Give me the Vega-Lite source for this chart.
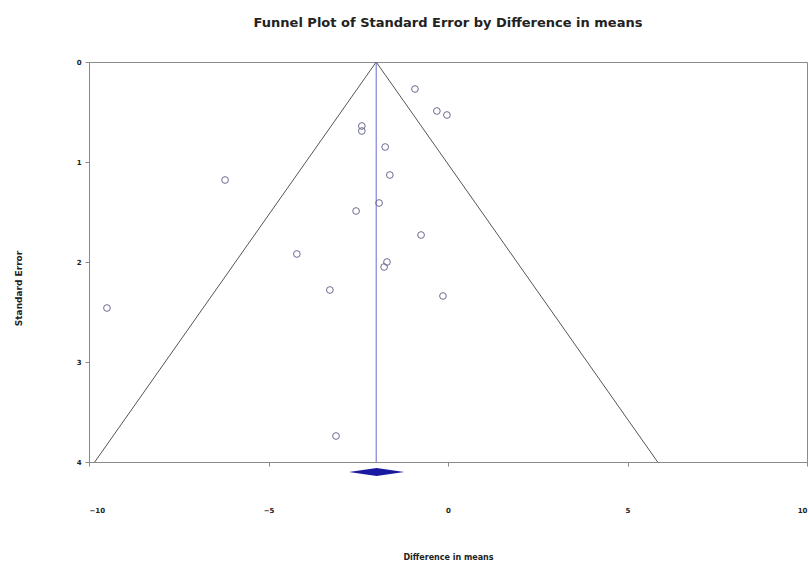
{
  "$schema": "https://vega.github.io/schema/vega-lite/v6.json",
  "width": 718,
  "height": 400,
  "autosize": {"type": "none"},
  "padding": {"left": 89, "top": 62, "right": 2, "bottom": 103},
  "background": "white",
  "title": {
    "text": "Funnel Plot of Standard Error by Difference in means",
    "font": "DejaVu Sans",
    "fontSize": 13,
    "fontWeight": "bold",
    "color": "#222222",
    "anchor": "middle",
    "baseline": "alphabetic",
    "offset": 18
  },
  "config": {
    "view": {"stroke": "#8a8a8a", "strokeWidth": 1},
    "axis": {
      "labelFont": "DejaVu Sans",
      "labelFontSize": 7,
      "labelFontWeight": "bold",
      "labelColor": "#222222",
      "titleFont": "DejaVu Sans",
      "titleFontSize": 8,
      "titleFontWeight": "bold",
      "titleColor": "#222222",
      "grid": false,
      "domainColor": "#8a8a8a",
      "tickColor": "#8a8a8a",
      "tickSize": 4
    }
  },
  "datasets": {
    "studies": [
      {"diff": -0.92, "se": 0.27},
      {"diff": -0.31, "se": 0.49},
      {"diff": -0.03, "se": 0.53},
      {"diff": -2.40, "se": 0.64},
      {"diff": -2.40, "se": 0.69},
      {"diff": -1.75, "se": 0.85},
      {"diff": -1.62, "se": 1.13},
      {"diff": -6.21, "se": 1.18},
      {"diff": -1.92, "se": 1.41},
      {"diff": -2.56, "se": 1.49},
      {"diff": -0.75, "se": 1.73},
      {"diff": -4.21, "se": 1.92},
      {"diff": -1.70, "se": 2.00},
      {"diff": -1.78, "se": 2.05},
      {"diff": -3.29, "se": 2.28},
      {"diff": -0.14, "se": 2.34},
      {"diff": -9.50, "se": 2.46},
      {"diff": -3.12, "se": 3.74}
    ],
    "funnel": [
      {"diff": -9.84, "se": 4, "step": 1},
      {"diff": -2.0, "se": 0, "step": 2},
      {"diff": 5.84, "se": 4, "step": 3}
    ],
    "meanline": [
      {"diff": -2.0, "se": 0, "se2": 4}
    ],
    "diamond": [
      {"diff": -2.76, "lo": 4.10, "hi": 4.10},
      {"diff": -1.99, "lo": 4.06, "hi": 4.14},
      {"diff": -1.22, "lo": 4.10, "hi": 4.10}
    ]
  },
  "layer": [
    {
      "data": {"name": "funnel"},
      "mark": {"type": "line", "color": "#555555", "strokeWidth": 1},
      "encoding": {
        "x": {
          "field": "diff", "type": "quantitative",
          "scale": {"domain": [-10, 10], "nice": false, "zero": false},
          "axis": {
            "values": [-10, -5, 0, 5, 10],
            "format": "d",
            "title": "Difference in means",
            "labelPadding": 40,
            "titleY": 95,
            "titleBaseline": "middle"
          }
        },
        "y": {
          "field": "se", "type": "quantitative",
          "scale": {"domain": [0, 4], "reverse": true, "nice": false},
          "axis": {
            "values": [0, 1, 2, 3, 4],
            "format": "d",
            "title": "Standard Error",
            "titleFontSize": 9,
            "labelPadding": 4,
            "titleX": -71,
            "titleY": 226,
            "titleAngle": -90,
            "titleAlign": "center",
            "titleBaseline": "middle"
          }
        },
        "order": {"field": "step", "type": "quantitative"}
      }
    },
    {
      "data": {"name": "meanline"},
      "mark": {"type": "rule", "color": "#6a6ad0", "strokeWidth": 1},
      "encoding": {
        "x": {"field": "diff", "type": "quantitative"},
        "y": {"field": "se", "type": "quantitative"},
        "y2": {"field": "se2"}
      }
    },
    {
      "data": {"name": "studies"},
      "mark": {"type": "point", "shape": "circle", "filled": false, "size": 45, "strokeWidth": 1, "color": "#6b6b92", "opacity": 1},
      "encoding": {
        "x": {"field": "diff", "type": "quantitative"},
        "y": {"field": "se", "type": "quantitative"}
      }
    },
    {
      "data": {"name": "diamond"},
      "mark": {"type": "area", "color": "#1a1aa0", "orient": "vertical", "opacity": 1},
      "encoding": {
        "x": {"field": "diff", "type": "quantitative"},
        "y": {"field": "lo", "type": "quantitative"},
        "y2": {"field": "hi"}
      }
    }
  ]
}
